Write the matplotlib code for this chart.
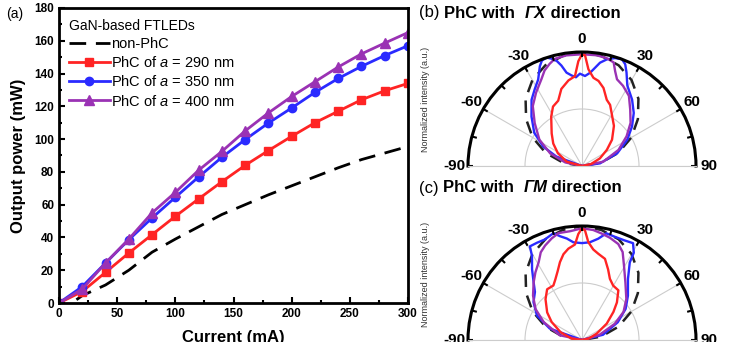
import matplotlib
matplotlib.use("Agg")
import matplotlib.pyplot as plt
import numpy as np

plt.rcParams['font.family'] = ['Liberation Sans', 'DejaVu Sans']
plt.rcParams['mathtext.fontset'] = 'custom'
plt.rcParams['mathtext.rm'] = 'Liberation Sans'
plt.rcParams['mathtext.it'] = 'Liberation Sans:italic'
plt.rcParams['mathtext.bf'] = 'Liberation Sans:bold'

# (a) output power vs current
current = [0, 20, 40, 60, 80, 100, 120, 140, 160, 180, 200, 220, 240, 260, 280, 300]
p_290 = [0, 7, 18.7, 30.5, 41.7, 52.9, 63.5, 74, 84, 93, 101.7, 110, 117, 124, 129.5, 134]
p_350 = [0, 10, 24.4, 38.6, 51.9, 64.5, 76.9, 88.9, 99.7, 109.8, 119, 128.5, 137, 144.4, 151, 157]
p_400 = [0, 8.5, 24.4, 39, 55, 67.5, 81, 92.5, 105, 116, 126, 135, 144, 152, 158.6, 165]
current_np = [15, 20, 40, 60, 80, 100, 120, 140, 160, 180, 200, 220, 240, 260, 280, 300]
p_np = [2, 4.5, 11, 20, 31, 39, 46.5, 54, 60, 66, 71.5, 77, 82.5, 87.5, 91.5, 95.5]

# far-field patterns (angle in deg, normalized intensity)
th_lam = [-90, -80, -70, -60, -50, -40, -30, -20, -10, 0, 10, 20, 30, 40, 50, 60, 70, 80, 90]
r_lam = [0, 0.17, 0.34, 0.50, 0.64, 0.77, 0.87, 0.94, 0.98, 1.0, 0.98, 0.94, 0.87, 0.77, 0.64, 0.50, 0.34, 0.17, 0]

th_rb = [-90, -74, -62, -52, -43, -32, -26, -20, -15, -9, -4.5, -2, 0, 1.6, 3.8, 7.4, 11, 15.4, 20.5, 24.7, 29.4, 38.5, 48.8, 57, 67, 78, 90]
r_rb = [0, 0.14, 0.24, 0.32, 0.39, 0.51, 0.58, 0.61, 0.70, 0.76, 0.79, 0.92, 0.98, 0.97, 0.85, 0.78, 0.76, 0.71, 0.62, 0.59, 0.53, 0.45, 0.35, 0.26, 0.17, 0.08, 0]
th_bb = [-90, -69.8, -63.4, -55.2, -45.6, -37.3, -31.7, -26.9, -22.9, -20.8, -18, -16, -13.6, -11.6, -9.4, -6.6, -3.9, -1.3, 1.9, 4.9, 7.6, 9.9, 13.1, 17, 20.5, 23, 25.4, 29.4, 37, 44.3, 51.6, 59.8, 70, 81.6, 90]
r_bb = [0, 0.24, 0.38, 0.51, 0.62, 0.73, 0.79, 0.85, 0.95, 0.99, 1.0, 0.98, 0.95, 0.90, 0.83, 0.80, 0.78, 0.81, 0.79, 0.82, 0.87, 0.92, 0.96, 0.99, 1.0, 0.97, 0.91, 0.81, 0.73, 0.65, 0.56, 0.46, 0.33, 0.16, 0]
th_pb = [-90, -78, -68.4, -58.2, -47.8, -39.4, -32, -25.1, -21.4, -17.6, -14.2, -8, 0, 7.6, 13, 17, 19.3, 22, 27.1, 33.8, 40.6, 48.4, 56.3, 66.2, 78.5, 90]
r_pb = [0, 0.15, 0.30, 0.44, 0.56, 0.68, 0.76, 0.84, 0.90, 0.94, 0.97, 0.98, 0.98, 0.98, 0.97, 0.95, 0.88, 0.82, 0.79, 0.74, 0.65, 0.57, 0.47, 0.35, 0.19, 0]

th_rc = [-90, -82.6, -70, -59.3, -51.6, -41.8, -34.5, -27.7, -23.8, -19.5, -15.8, -12.2, -8.5, -4.2, -2, 0, 1.6, 3.7, 7.1, 10.7, 15.8, 20.3, 24.5, 29.8, 36.2, 42.9, 48.2, 56.5, 66.6, 78, 90]
r_rc = [0, 0.09, 0.20, 0.31, 0.39, 0.48, 0.54, 0.54, 0.58, 0.64, 0.71, 0.77, 0.81, 0.84, 0.93, 0.98, 0.96, 0.86, 0.80, 0.77, 0.74, 0.66, 0.59, 0.55, 0.54, 0.45, 0.37, 0.26, 0.14, 0.06, 0]
th_bc = [-90, -70.5, -61.4, -52, -44.4, -40, -35.2, -30.7, -29.1, -24.8, -20.2, -15, -11.9, -8.5, -5, 0, 4.6, 9.1, 12.9, 17.6, 23.1, 27.8, 30.7, 31.6, 37, 46, 54.5, 63.6, 76, 90]
r_bc = [0, 0.30, 0.45, 0.54, 0.59, 0.66, 0.76, 0.86, 0.94, 0.94, 0.94, 0.97, 0.93, 0.90, 0.86, 0.85, 0.86, 0.90, 0.96, 0.95, 0.95, 0.96, 0.89, 0.80, 0.67, 0.56, 0.47, 0.35, 0.19, 0]
th_pc = [-90, -78, -65, -56.3, -47.8, -40, -34.6, -29.2, -25.2, -21.3, -16.6, -12.4, -6.2, 0, 5.8, 10.4, 15.2, 20.7, 24.8, 29.4, 37.2, 47.2, 55.9, 63.7, 73.5, 90]
r_pc = [0, 0.2, 0.37, 0.49, 0.58, 0.66, 0.72, 0.78, 0.85, 0.89, 0.93, 0.96, 0.96, 0.98, 0.97, 0.95, 0.93, 0.90, 0.85, 0.75, 0.63, 0.53, 0.44, 0.32, 0.16, 0]

theta_ticks = [-90, -60, -30, 0, 30, 60, 90]
theta_labels = ['-90', '-60', '-30', '0', '30', '60', '90']
theta_marks = [-90, -75, -60, -45, -30, -15, 0, 15, 30, 45, 60, 75, 90]

RED = '#ff2424'
BLUE = '#2a2aff'
PURPLE = '#9a32b4'

fig = plt.figure(figsize=(7.29, 3.42), dpi=100)

# ---- panel (a)
ax = fig.add_axes([59/729, 39/342, 349/729, 295/342])
ax.plot(current_np, p_np, color='black', lw=2, ls=(0, (6, 3.5)), label='non-PhC')
ax.plot(current, p_290, color=RED, lw=2, marker='s', ms=5.5, label='PhC of $a$ = 290 nm')
ax.plot(current, p_350, color=BLUE, lw=2, marker='o', ms=6, label='PhC of $a$ = 350 nm')
ax.plot(current, p_400, color=PURPLE, lw=2, marker='^', ms=6.5, label='PhC of $a$ = 400 nm')
ax.set_xlim(0, 300)
ax.set_ylim(0, 180)
ax.set_xticks(np.arange(0, 301, 50))
ax.set_xticks(np.arange(0, 301, 25), minor=True)
ax.set_yticks(np.arange(0, 181, 20))
ax.set_yticks(np.arange(0, 181, 10), minor=True)
ax.tick_params(which='both', direction='in', width=1.5, labelsize=8.5)
ax.tick_params(which='major', length=4)
ax.tick_params(which='minor', length=2.5)
for lab in ax.get_xticklabels() + ax.get_yticklabels():
    lab.set_fontweight('bold')
for s in ax.spines.values():
    s.set_linewidth(2)
ax.set_xlabel('Current (mA)', fontsize=12, fontweight='bold', labelpad=7)
ax.set_ylabel('Output power (mW)', fontsize=12, fontweight='bold', labelpad=6)
leg = ax.legend(loc='upper left', bbox_to_anchor=(0.028, 0.962), frameon=False,
                title='GaN-based FTLEDs', title_fontsize=10, fontsize=10.5,
                handlelength=2.8, handletextpad=0.1, labelspacing=0.28,
                borderpad=0, borderaxespad=0, alignment='left')
fig.text(6/729, 1 - 14/342, '(a)', fontsize=10, va='center')


def polar_panel(rect, curves, tag, direction, ytitle):
    pax = fig.add_axes(rect, projection='polar')
    pax.set_theta_zero_location('N')
    pax.set_theta_direction(-1)
    pax.set_thetamin(-90)
    pax.set_thetamax(90)
    pax.set_rlim(0, 1.0)
    pax.plot(np.deg2rad(th_lam), r_lam, color='#222222', lw=1.8, ls=(0, (5, 3.5)))
    for th, r, c in curves:
        pax.plot(np.deg2rad(th), r, color=c, lw=1.7)
    pax.set_thetagrids(theta_ticks, labels=theta_labels)
    pax.set_rgrids([0.5], labels=[''])
    pax.grid(True, color='#cccccc', lw=0.8)
    pax.tick_params(axis='x', pad=-1, labelsize=11)
    for lab in pax.get_xticklabels():
        lab.set_fontweight('bold')
    # short inward tick marks on the outer rim
    for t in theta_marks:
        pax.plot([np.deg2rad(t)] * 2, [0.955, 1.0], color='black', lw=1.5,
                 clip_on=False, solid_capstyle='butt')
    pax.spines['polar'].set_linewidth(2.2)
    for side in ('start', 'end'):
        pax.spines[side].set_color('#cccccc')
        pax.spines[side].set_linewidth(0.8)
    t1 = fig.text(419/729, ytitle, '(%s) ' % tag, fontsize=12, va='center')
    t2 = ax.annotate('PhC with  ', xy=(1, 0), xycoords=t1, fontsize=12,
                     fontweight='bold', va='bottom')
    t3 = ax.annotate('\u0393' + direction, xy=(1, 0), xycoords=t2, fontsize=12,
                     fontweight='bold', fontstyle='italic', va='bottom')
    ax.annotate(' direction', xy=(1, 0), xycoords=t3, fontsize=12,
                fontweight='bold', va='bottom')
    return pax


# square boxes: the half disk sits in the middle half of each box
ax_b = polar_panel([468/729, (342 - 223)/342, 228/729, 228/342],
                   [(th_bb, r_bb, BLUE), (th_pb, r_pb, PURPLE), (th_rb, r_rb, RED)],
                   'b', 'X', 1 - 13/342)
ax_c = polar_panel([468/729, (342 - 397)/342, 228/729, 228/342],
                   [(th_bc, r_bc, BLUE), (th_pc, r_pc, PURPLE), (th_rc, r_rc, RED)],
                   'c', 'M', 1 - 188/342)
fig.text(425/729, 1 - 99/342, 'Normalized intensity (a.u.)', rotation=90, fontsize=6.5,
         va='center', ha='center', color='#333333')
fig.text(425/729, 1 - 274/342, 'Normalized intensity (a.u.)', rotation=90, fontsize=6.5,
         va='center', ha='center', color='#333333')

fig.savefig('out.png', dpi=100)
